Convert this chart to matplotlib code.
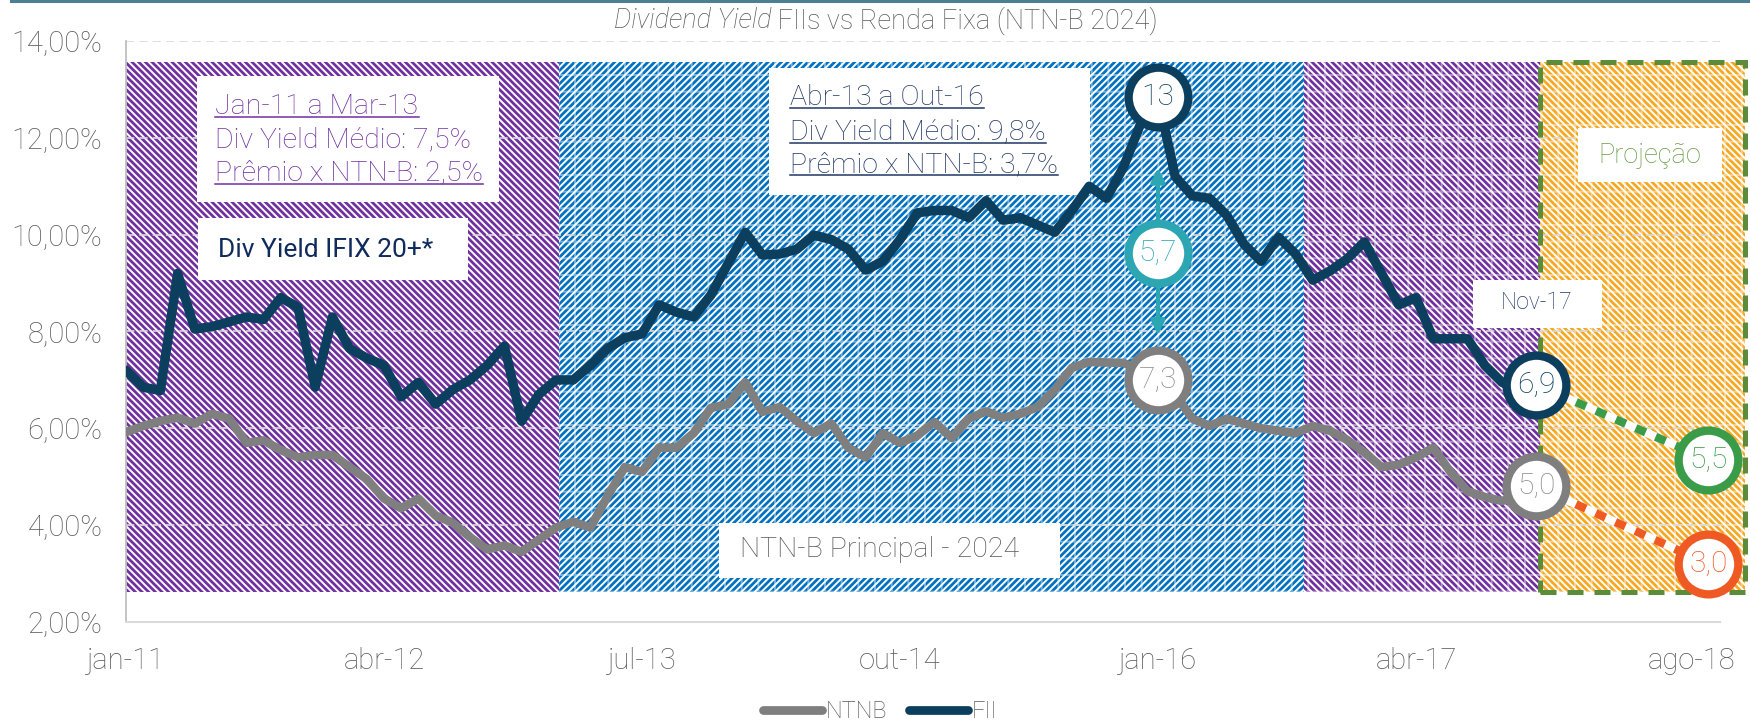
import matplotlib
matplotlib.use("Agg")
import matplotlib.pyplot as plt
from matplotlib.patches import Rectangle
from matplotlib.lines import Line2D
from matplotlib.ticker import FuncFormatter

plt.rcParams['font.family'] = ['Roboto', 'DejaVu Sans']
plt.rcParams['font.weight'] = 'light'
plt.rcParams['hatch.linewidth'] = 1.4

# monthly data, index 0 = jan-11 ... 82 = nov-17
fii = [7.2, 6.85, 6.78, 9.2, 8.05, 8.1, 8.2, 8.3, 8.25, 8.7,
       8.5, 6.85, 8.3, 7.65, 7.45, 7.3, 6.65, 6.95, 6.5, 6.8,
       7.0, 7.3, 7.7, 6.15, 6.7, 7.0, 7.0, 7.3, 7.65, 7.87,
       7.95, 8.55, 8.4, 8.3, 8.75, 9.4, 10.05, 9.58, 9.6, 9.7,
       9.99, 9.9, 9.7, 9.27, 9.45, 9.9, 10.45, 10.5, 10.5, 10.35,
       10.7, 10.3, 10.35, 10.2, 10.05, 10.5, 11.0, 10.75, 11.4, 12.3,
       12.85, 11.2, 10.8, 10.75, 10.4, 9.8, 9.45, 9.95, 9.6, 9.06,
       9.25, 9.5, 9.85, 9.2, 8.55, 8.7, 7.85, 7.85, 7.85, 7.3,
       6.95, 6.8, 6.9]
ntnb = [5.92, 6.05, 6.15, 6.22, 6.1, 6.3, 6.2, 5.7, 5.75, 5.55,
        5.4, 5.45, 5.45, 5.2, 4.95, 4.55, 4.35, 4.55, 4.2, 4.05,
        3.75, 3.5, 3.58, 3.45, 3.7, 3.95, 4.07, 3.95, 4.6, 5.2,
        5.1, 5.6, 5.6, 5.9, 6.42, 6.5, 6.95, 6.34, 6.44, 6.15,
        5.9, 6.1, 5.6, 5.4, 5.9, 5.7, 5.85, 6.13, 5.8, 6.2,
        6.35, 6.22, 6.3, 6.44, 6.8, 7.25, 7.37, 7.36, 7.35, 7.2,
        7.0, 6.7, 6.2, 6.05, 6.2, 6.1, 6.0, 5.95, 5.9, 6.05,
        5.95, 5.76, 5.5, 5.2, 5.25, 5.4, 5.6, 5.1, 4.7, 4.58,
        4.5, 4.6, 4.8]
months = list(range(len(fii)))

proj_months = [82, 92]
fii_proj = [6.9, 5.35]
ntnb_proj = [4.8, 3.2]

tick_pos = [0, 15, 30, 45, 60, 75, 91]
tick_labels = ['jan-11', 'abr-12', 'jul-13', 'out-14', 'jan-16', 'abr-17', 'ago-18']

# background periods: (start, end, color, hatch, faint grid)
periods = [(0, 25.2, '#7030a0', '\\\\\\\\\\', False),
           (25.2, 68.5, '#0070c0', '/////', True),
           (68.5, 82.2, '#7030a0', '\\\\\\\\\\', True),
           (82.2, 94.1, '#f7a823', '\\\\\\\\\\', True)]

GRAY_TXT = '#595959'
NAVY = '#0c3f5e'
GREY_LINE = '#7f7f7f'
TEAL = '#2ba6b2'

W, H = 1750, 724
fig = plt.figure(figsize=(W / 100, H / 100), dpi=100)
ax = fig.add_axes([126 / W, 1 - 622 / H, (1720 - 126) / W, (622 - 41) / H])
ax.set_xlim(0, (1720 - 126) / 17.2)
ax.set_ylim(2, 14)

for x0, x1, col, hat, grid in periods:
    ax.add_patch(Rectangle((x0, 2.62), x1 - x0, 13.57 - 2.62, facecolor=col,
                           edgecolor='white', lw=0, hatch=hat, zorder=0.5,
                           clip_on=False))
    if grid:
        ax.add_patch(Rectangle((x0, 2.62), x1 - x0, 13.57 - 2.62, facecolor='none',
                               edgecolor=(1, 1, 1, 0.45), lw=0, hatch='+', zorder=0.6,
                               clip_on=False))
ax.add_patch(Rectangle((82.2, 2.62), 94.1 - 82.2, 13.57 - 2.62, fill=False,
                       edgecolor='#5b8c3a', lw=3.6, ls=(0, (3.2, 2.2)),
                       zorder=1.6, clip_on=False))

ax.yaxis.grid(True, linestyle=(0, (5, 3)), color='#d9d9d9', lw=1.2)
ax.set_yticks(range(2, 15, 2))
ax.yaxis.set_major_formatter(FuncFormatter(lambda v, p: f"{v:.2f}%".replace('.', ',')))
ax.set_xticks(tick_pos)
ax.set_xticklabels(tick_labels)
ax.tick_params(length=0, labelsize=21, labelcolor=GRAY_TXT)
ax.tick_params(axis='y', pad=17)
ax.tick_params(axis='x', pad=18)
for s in ['top', 'right']:
    ax.spines[s].set_visible(False)
ax.spines['left'].set_color('#bfbfbf')
ax.spines['bottom'].set_color('#d9d9d9')
ax.spines['left'].set_linewidth(1.3)
ax.spines['bottom'].set_linewidth(1.5)

# white text boxes
def box(x0, x1, y0, y1):
    ax.add_patch(Rectangle((x0, y0), x1 - x0, y1 - y0, facecolor='white',
                           edgecolor='none', zorder=3, clip_on=False))

box(4.1, 21.7, 10.67, 13.28)
box(4.2, 19.9, 9.06, 10.34)
box(37.4, 56.05, 10.82, 13.44)
box(34.5, 54.3, 2.91, 4.04)
box(84.4, 92.8, 11.09, 12.2)
box(78.3, 85.8, 8.07, 9.06)

underlined = []
purple = '#7030a0'
t = ax.text(5.2, 12.64, 'Jan-11 a Mar-13', color=purple, fontsize=20.5, va='center', zorder=6)
underlined.append((t, purple))
ax.text(5.2, 11.95, 'Div Yield Médio: 7,5%', color=purple, fontsize=20.5, va='center', zorder=6)
t = ax.text(5.2, 11.27, 'Prêmio x NTN-B: 2,5%', color=purple, fontsize=20.5, va='center', zorder=6)
underlined.append((t, purple))
ax.text(5.35, 9.68, 'Div Yield IFIX 20+*', color='#0f2b5b', fontsize=19, weight='normal',
        va='center', zorder=6)
blue_txt = '#203864'
for y, s in [(12.84, 'Abr-13 a Out-16'), (12.12, 'Div Yield Médio: 9,8%'),
             (11.44, 'Prêmio x NTN-B: 3,7%')]:
    t = ax.text(38.6, y, s, color=blue_txt, fontsize=20.5, va='center', zorder=6)
    underlined.append((t, blue_txt))
ax.text(35.7, 3.49, 'NTN-B Principal - 2024', color=GRAY_TXT, fontsize=20.5, va='center', zorder=6)
ax.text(88.6, 11.64, 'Projeção', color='#6b9b45', fontsize=19.5, ha='center', va='center', zorder=6)
ax.text(82.0, 8.59, 'Nov-17', color=blue_txt, fontsize=16.5, ha='center', va='center', zorder=6)

# series
ax.plot(months, ntnb, color=GREY_LINE, lw=6.2, solid_joinstyle='round',
        solid_capstyle='round', zorder=4)
ax.plot(months, fii, color=NAVY, lw=6.8, solid_joinstyle='round',
        solid_capstyle='round', zorder=4)

# projections
for vals, col in [(fii_proj, '#3a9c48'), (ntnb_proj, '#ef5a24')]:
    ax.plot(proj_months, vals, color='white', lw=6, solid_capstyle='butt', zorder=4, clip_on=False)
    ax.plot(proj_months, vals, color=col, lw=6, ls=(0, (1.3, 1.3)),
            dash_capstyle='butt', zorder=4.1, clip_on=False)

# gap arrow
ax.annotate('', xy=(60, 11.38), xytext=(60, 7.93),
            arrowprops=dict(arrowstyle='<|-|>', color=TEAL, lw=3,
                            mutation_scale=20, shrinkA=0, shrinkB=0), zorder=4.5)

def bubble(x, y, label, edge, txt):
    ax.plot([x], [y], marker='o', ms=43, mfc='white', mec=edge, mew=6,
            zorder=5, clip_on=False)
    ax.text(x, y, label, color=txt, fontsize=21.5, ha='center', va='center',
            zorder=6, clip_on=False)

bubble(60, fii[60], '13', NAVY, NAVY)
bubble(60, 9.62, '5,7', TEAL, TEAL)
bubble(60, ntnb[60], '7,3', GREY_LINE, '#8c8c8c')
bubble(82, fii[82], '6,9', NAVY, NAVY)
bubble(82, ntnb[82], '5,0', GREY_LINE, '#8c8c8c')
bubble(92, fii_proj[1], '5,5', '#3a9c48', '#3a9c48')
bubble(92, ntnb_proj[1], '3,0', '#ef5a24', '#ef5a24')

# title and top rule
title_a = fig.text(0.5, 1 - 21 / H, 'Dividend Yield', fontsize=19.5, style='italic',
                   color=GRAY_TXT, ha='right', va='center')
title_b = fig.text(0.5, 1 - 21 / H, ' FIIs vs Renda Fixa (NTN-B 2024)', fontsize=19.5,
                   color=GRAY_TXT, ha='left', va='center')
fig.add_artist(Line2D([0.006, 1], [0.998, 0.998], color='#4a8092', lw=2.2))

# legend
handles = [Line2D([], [], color=GREY_LINE, lw=6.3, solid_capstyle='round'),
           Line2D([], [], color=NAVY, lw=6.3, solid_capstyle='round')]
fig.legend(handles, ['NTNB', 'FII'], loc='center', bbox_to_anchor=(0.503, 0.017),
           ncol=2, frameon=False, fontsize=17, handlelength=2.5, handletextpad=0.15,
           columnspacing=0.9, labelcolor=GRAY_TXT)

# underline some texts
fig.canvas.draw()
r = fig.canvas.get_renderer()
for t, col in underlined:
    bb = t.get_window_extent(r)
    y = (bb.y0 + 3) / H
    fig.add_artist(Line2D([bb.x0 / W, bb.x1 / W], [y, y], color=col, lw=1.1, zorder=7))

# centre the two title parts together
wa = title_a.get_window_extent(r).width
wb = title_b.get_window_extent(r).width
cx = 886 - (wa + wb) / 2 + wa
title_a.set_x(cx / W)
title_b.set_x(cx / W)

fig.savefig('out.png', dpi=100)
